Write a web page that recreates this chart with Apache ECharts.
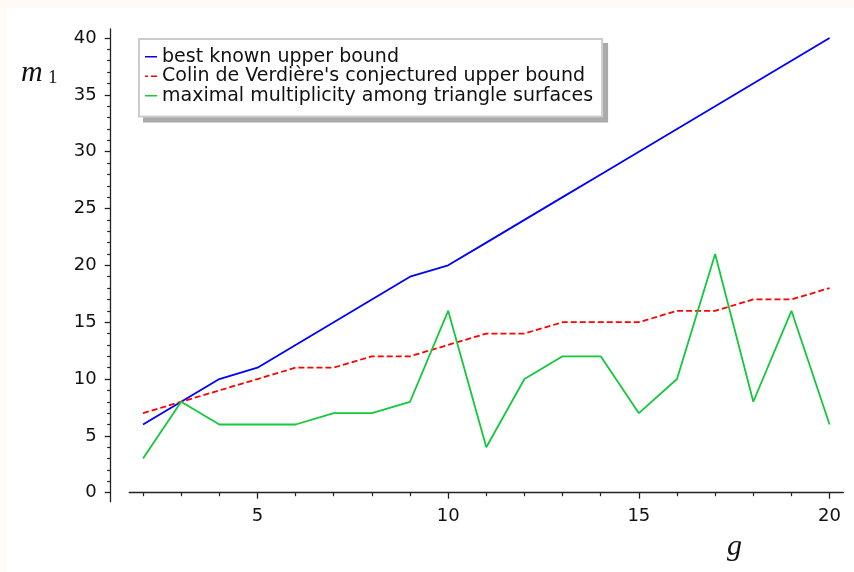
<!DOCTYPE html>
<html>
<head>
    <meta charset="utf-8">
    <title>m1 vs g</title>
    <script src="https://cdn.jsdelivr.net/npm/echarts@6/dist/echarts.min.js"></script>
    <style>
        html, body { margin: 0; padding: 0; background: #fffaf5; }
        #main { position: absolute; left: 7px; top: 8px; width: 847px; height: 564px; background: #fff; }
    </style>
</head>
<body>
    <div id="main"></div>
    <script type="text/javascript">
        // genus g on the x axis
        var genus = [2, 3, 4, 5, 6, 7, 8, 9, 10, 11, 12, 13, 14, 15, 16, 17, 18, 19, 20];
        // m1 values for each curve
        var bestKnown = [6, 8, 10, 11, 13, 15, 17, 19, 20, 22, 24, 26, 28, 30, 32, 34, 36, 38, 40];
        var colinConj = [7, 8, 9, 10, 11, 11, 12, 12, 13, 14, 14, 15, 15, 15, 16, 16, 17, 17, 18];
        var triangleMax = [3, 8, 6, 6, 6, 7, 7, 8, 16, 4, 10, 12, 12, 7, 10, 21, 8, 16, 6];
        var seriesNames = ['best known upper bound', "Colin de Verdière's conjectured upper bound", 'maximal multiplicity among triangle surfaces'];
        var seriesColors = ['#0000ff', '#ff0000', '#14c83c'];
        var xTicks = [5, 10, 15, 20];
        var yTicks = [0, 5, 10, 15, 20, 25, 30, 35, 40];

        function pairs(ys) {
            var out = [];
            for (var i = 0; i < genus.length; i++) {
                out.push([genus[i], ys[i]]);
            }
            return out;
        }

        // short line icons for the legend (the red one is dashed)
        var solidIcon = 'path://M0,0H12V1.5H0Z';
        var dashIcon = 'path://M0,0H3V1.5H0Z M6,0H12V1.5H6Z';
        var legendData = [
            { name: seriesNames[0], icon: solidIcon },
            { name: seriesNames[1], icon: dashIcon },
            { name: seriesNames[2], icon: solidIcon }
        ];

        var myChart = echarts.init(document.getElementById('main'));
        var axisColor = '#222';
        var labelFont = { color: '#111', fontSize: 18, fontFamily: 'DejaVu Sans' };
        var legendBase = {
            orient: 'vertical',
            padding: [8, 9, 11, 6],
            itemWidth: 12,
            itemHeight: 1.5,
            itemGap: 0,
            borderWidth: 2,
            borderRadius: 0,
            textStyle: { color: '#111', fontSize: 19, fontFamily: 'DejaVu Sans', lineHeight: 19.5 },
            data: legendData
        };

        var option = {
            animation: false,
            grid: { left: 122.3, right: 10.7, top: 20.9, bottom: 70.2 },
            legend: [
                // gray drop shadow behind the legend box
                Object.assign({}, legendBase, {
                    left: 137, top: 36, z: 3,
                    backgroundColor: '#aaaaaa', borderColor: '#aaaaaa',
                    textStyle: Object.assign({}, legendBase.textStyle, { color: 'rgba(0,0,0,0)' }),
                    itemStyle: { opacity: 0 }
                }),
                Object.assign({}, legendBase, {
                    left: 132, top: 31, z: 4,
                    backgroundColor: '#fff', borderColor: '#cccccc'
                })
            ],
            xAxis: {
                type: 'value',
                min: 1.64,
                max: 20.36,
                splitNumber: 4,
                axisLine: { onZero: true, lineStyle: { color: axisColor, width: 1.3 } },
                axisTick: { length: 6, customValues: xTicks, lineStyle: { color: axisColor, width: 1.3 } },
                minorTick: { show: true, splitNumber: 5, length: 3.5, lineStyle: { color: axisColor, width: 1.2 } },
                axisLabel: Object.assign({ margin: 6, customValues: xTicks }, labelFont),
                splitLine: { show: false }
            },
            yAxis: {
                type: 'value',
                min: -0.8,
                max: 40.8,
                splitNumber: 8,
                offset: 18.6,
                axisLine: { show: true, lineStyle: { color: axisColor, width: 1.3 } },
                axisTick: { show: true, length: 6, customValues: yTicks, lineStyle: { color: axisColor, width: 1.3 } },
                minorTick: { show: true, splitNumber: 5, length: 3.5, lineStyle: { color: axisColor, width: 1.2 } },
                axisLabel: Object.assign({ margin: 14, customValues: yTicks }, labelFont),
                splitLine: { show: false }
            },
            graphic: [
                { type: 'text', left: 14, top: 50, style: { text: 'm', fontSize: 30, fontStyle: 'italic', fontFamily: 'Liberation Serif', fill: '#111' } },
                { type: 'text', left: 41, top: 61, style: { text: '1', fontSize: 19, fontFamily: 'Liberation Serif', fill: '#111' } },
                { type: 'text', left: 720, top: 524, style: { text: 'g', fontSize: 30, fontStyle: 'italic', fontFamily: 'Liberation Serif', fill: '#111' } }
            ],
            series: [
                {
                    name: seriesNames[0], type: 'line', symbol: 'none',
                    lineStyle: { color: seriesColors[0], width: 1.8 }, itemStyle: { color: seriesColors[0] },
                    data: pairs(bestKnown)
                },
                {
                    name: seriesNames[1], type: 'line', symbol: 'none',
                    lineStyle: { color: seriesColors[1], width: 1.8, type: [6, 3] }, itemStyle: { color: seriesColors[1] },
                    data: pairs(colinConj)
                },
                {
                    name: seriesNames[2], type: 'line', symbol: 'none',
                    lineStyle: { color: seriesColors[2], width: 1.8 }, itemStyle: { color: seriesColors[2] },
                    data: pairs(triangleMax)
                }
            ]
        };

        myChart.setOption(option);
    </script>
</body>
</html>
